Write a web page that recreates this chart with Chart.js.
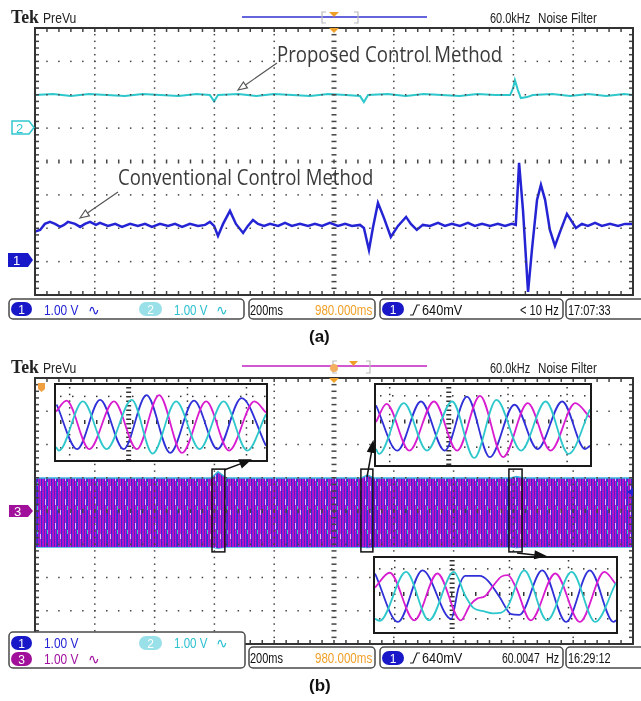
<!DOCTYPE html>
<html>
<head>
<meta charset="utf-8">
<script src="https://cdn.jsdelivr.net/npm/chart.js@4.4.1/dist/chart.umd.min.js"></script>
<style>
body{margin:0;width:641px;height:701px;position:relative;overflow:hidden;background:#fff}
canvas{position:absolute}
svg{position:absolute;left:0;top:0}
.n{position:absolute;font-family:"Liberation Sans",Arial,sans-serif;font-size:14px;line-height:14px;white-space:nowrap;transform-origin:0 50%}
.tek{position:absolute;font-family:"Liberation Serif","DejaVu Serif",serif;font-weight:bold;font-size:19px;line-height:19px;color:#222;white-space:nowrap;transform-origin:0 50%}
.note{position:absolute;font-family:"Open Sans","DejaVu Sans",sans-serif;font-size:21px;line-height:21px;color:#3a3a3a;white-space:nowrap;transform-origin:0 50%}
.cap{position:absolute;font-family:"Liberation Sans",Arial,sans-serif;font-weight:bold;font-size:17px;line-height:17px;color:#111}
.inset{position:absolute;border:2px solid #1a1a1a;background:#fff}
.inset canvas{position:static;display:block}
</style>
</head>
<body>
<canvas id="scopeA" width="602" height="271" style="left:33px;top:26px"></canvas>
<canvas id="scopeB" width="602" height="270" style="left:33px;top:376px"></canvas>
<div class="inset" style="left:54px;top:383px"><canvas id="zoom1" width="210" height="75"></canvas></div>
<div class="inset" style="left:374px;top:383px"><canvas id="zoom2" width="214" height="80"></canvas></div>
<div class="inset" style="left:373px;top:556px"><canvas id="zoom3" width="241" height="74"></canvas></div>

<svg width="641" height="701">
  <!-- cabecera (a) -->
  <line x1="242" y1="17" x2="427" y2="17" stroke="#3030d0" stroke-width="1.5"/>
  <path d="M326 12H322V23H326M354 12H358V23H354" fill="none" stroke="#bbb" stroke-width="1.2"/>
  <polygon points="329,12 339,12 334,17" fill="#f0a028"/>
  <polygon points="329,28 339,28 334,33" fill="#f0a028"/>
  <!-- cabecera (b) -->
  <line x1="242" y1="366" x2="427" y2="366" stroke="#c020c0" stroke-width="1.5"/>
  <path d="M337 361H333V373H337M366 361H370V373H366" fill="none" stroke="#bbb" stroke-width="1.2"/>
  <circle cx="334" cy="368" r="4" fill="#f3b060"/>
  <polygon points="349,361 358,361 353.5,366" fill="#f0a028"/>
  <polygon points="329,378 339,378 334,383" fill="#f0a028"/>
  <polygon points="38,383 45,383 45,389 41.5,392 38,389" fill="#f0a040"/>
  <polygon points="627,492 633,488 633,496" fill="#2020d0"/>

  <!-- marcadores de canal -->
  <polygon points="12,121 29,121 34,127.5 29,134 12,134" fill="#fff" stroke="#30c8d0" stroke-width="1.5"/>
  <text x="16" y="132.5" font-family="Liberation Sans" font-size="13" fill="#30c8d0">2</text>
  <polygon points="8,253 28,253 33,260 28,267 8,267" fill="#1818c8"/>
  <text x="13" y="265" font-family="Liberation Sans" font-size="13" fill="#fff">1</text>
  <polygon points="9,505 28,505 33,511 28,517 9,517" fill="#a0109a"/>
  <text x="14" y="516" font-family="Liberation Sans" font-size="13" fill="#fff">3</text>

  <!-- flechas (a) -->
  <g stroke="#555" stroke-width="1.2">
    <line x1="277" y1="63" x2="244" y2="86"/>
    <polygon points="238,90 247.4,87.8 243.4,82" fill="#fff"/>
    <line x1="118" y1="192" x2="86" y2="214"/>
    <polygon points="80,218 89.4,215.8 85.4,210" fill="#fff"/>
  </g>
  <!-- flechas (b) -->
  <g stroke="#111" stroke-width="1.5" fill="#111">
    <line x1="224" y1="470" x2="241" y2="463.6"/>
    <polygon points="250,460 242.1,467.3 239.3,459.9"/>
    <line x1="367" y1="477" x2="371.5" y2="452"/>
    <polygon points="373,442 374.8,452.5 367.9,451.3"/>
    <line x1="517" y1="553" x2="535" y2="555"/>
    <polygon points="545,556 534.7,558.4 535.5,551.4"/>
  </g>

  <!-- barras de estado -->
  <g fill="#fff" stroke="#4a4a4a" stroke-width="1.5">
    <rect x="9" y="299" width="235" height="20" rx="4"/>
    <rect x="249" y="299" width="126" height="20" rx="4"/>
    <rect x="380" y="299" width="183" height="20" rx="4"/>
    <rect x="566" y="299" width="80" height="20" rx="4"/>
    <rect x="9" y="632" width="236" height="36" rx="4"/>
    <rect x="249" y="647" width="126" height="21" rx="4"/>
    <rect x="380" y="647" width="183" height="21" rx="4"/>
    <rect x="566" y="647" width="80" height="21" rx="4"/>
  </g>
  <g font-family="Liberation Sans" font-size="12" text-anchor="middle" fill="#fff">
    <rect x="11" y="302" width="21" height="14" rx="7" fill="#1818c8"/><text x="21.5" y="313.5">1</text>
    <rect x="139" y="302" width="23" height="14" rx="7" fill="#9ae0e8"/><text x="150.5" y="313.5">2</text>
    <rect x="382" y="302" width="22" height="14" rx="7" fill="#1818c8"/><text x="393" y="313.5">1</text>
    <rect x="11" y="636" width="21" height="14" rx="7" fill="#1818c8"/><text x="21.5" y="647.5">1</text>
    <rect x="139" y="636" width="23" height="14" rx="7" fill="#9ae0e8"/><text x="150.5" y="647.5">2</text>
    <rect x="11" y="652" width="21" height="14" rx="7" fill="#a0109a"/><text x="21.5" y="663.5">3</text>
    <rect x="382" y="651" width="22" height="14" rx="7" fill="#1818c8"/><text x="393" y="662.5">1</text>
  </g>
  <g fill="none" stroke="#222" stroke-width="1.2">
    <polyline points="410,315 413,315 417,305 420,305"/>
    <polyline points="410,663 413,663 417,653 420,653"/>
  </g>
</svg>

<span class="tek" style="left:11px;top:7px" data-w="28">Tek</span>
<span class="tek" style="left:11px;top:357px" data-w="28">Tek</span>
<span class="note" style="left:277px;top:44px" data-w="225">Proposed Control Method</span>
<span class="note" style="left:118px;top:167px" data-w="255">Conventional Control Method</span>
<span class="cap" style="left:309px;top:328px">(a)</span>
<span class="cap" style="left:309px;top:677px">(b)</span>

<script>
// Canal 1 (a): tiempo en ms, tension en V (1 V/div)
const ch1Time = [0,17,33,50,67,84,97,110,134,151,167,184,204,217,244,268,291,318,344,368,391,418,445,468,492,518,545,569,585,599,612,629,652,672,696,712,729,746,766,786,813,836,859,886,913,936,960,986,1013,1037,1060,1087,1100,1117,1130,1147,1167,1190,1214,1241,1257,1277,1297,1321,1348,1371,1394,1421,1448,1471,1495,1522,1548,1572,1595,1608,1619,1632,1649,1662,1679,1692,1706,1722,1739,1756,1779,1792,1809,1829,1849,1873,1896,1923,1950,1973,2000];
const ch1Volts = [-2.10,-2.05,-1.87,-1.81,-1.87,-1.96,-1.90,-1.81,-1.87,-1.96,-1.87,-1.81,-1.90,-1.84,-1.93,-1.87,-1.96,-1.87,-1.93,-1.87,-1.96,-1.87,-1.93,-1.87,-1.96,-1.87,-1.93,-1.90,-1.81,-1.93,-2.23,-1.87,-1.48,-1.87,-2.14,-1.93,-1.75,-1.87,-1.93,-1.87,-1.93,-1.84,-1.93,-1.87,-1.93,-1.87,-1.93,-1.84,-1.93,-1.87,-1.93,-1.90,-1.99,-2.65,-1.99,-1.24,-1.69,-2.26,-1.93,-1.66,-1.87,-2.05,-1.90,-1.93,-1.84,-1.93,-1.87,-1.93,-1.84,-1.93,-1.87,-1.93,-1.87,-1.93,-1.87,-1.90,-0.04,-1.45,-3.91,-2.65,-1.15,-0.70,-1.15,-2.05,-2.53,-2.11,-1.57,-1.75,-1.99,-1.87,-1.93,-1.84,-1.93,-1.87,-1.93,-1.87,-1.87];

// Canal 2 (a)
const ch2Time = [0,60,120,180,240,300,360,420,480,540,585,599,612,680,740,800,860,920,980,1040,1087,1100,1114,1180,1240,1300,1360,1420,1480,1540,1589,1599,1605,1615,1625,1645,1665,1730,1790,1850,1910,1970,2000];
const ch2Volts = [1.99,2.02,1.96,2.02,1.99,1.96,2.02,1.99,1.96,2.02,1.99,1.80,1.99,2.02,1.96,2.02,1.99,1.96,2.02,1.99,1.96,1.78,1.99,2.02,1.96,2.02,1.99,1.96,2.02,1.99,1.99,2.20,2.44,2.14,1.90,1.93,1.99,2.02,1.96,2.02,1.96,2.02,1.99];

// Banda trifasica (b): envolvente superior / inferior
const bandTime = [0,590,612,640,1090,1112,1135,1590,1610,1635,2000];
const bandUpper = [0.99,0.99,1.18,0.99,0.99,1.08,0.99,0.99,1.04,0.99,0.99];
const bandLower = [-1.08,-1.08,-1.12,-1.08,-1.08,-1.10,-1.08,-1.08,-1.10,-1.08,-1.08];

// Ventanas de zoom marcadas (ms)
const zoomStart = [592,1090,1585];
const zoomEnd = [635,1130,1629];

// Ampliaciones: [posicion 0-100, valor p.u.]
const zoom1Blue = [[0.3,0.78],[10.1,-0.98],[21.0,0.96],[32.2,-0.98],[43.1,1.15],[54.4,-1.13],[65.7,0.93],[76.9,-0.98],[88.3,1.03],[100,-0.85]];
const zoom1Magenta = [[0,0.5],[5.0,0.93],[15.9,-0.98],[27.6,0.9],[38.5,-0.98],[49.1,1.15],[60.0,-1.13],[71.5,0.9],[82.4,-1.04],[94.5,0.9],[100,0.46]];
const zoom1Cyan = [[0,-0.9],[1.4,-1.04],[12.8,0.9],[24.1,-0.98],[36.1,0.96],[46.0,-1.16],[57.2,0.9],[68.4,-0.98],[79.8,0.9],[91.1,-1.04],[100,0.4]];

const zoom2Blue = [[0,0.8],[10.0,-0.88],[21.0,0.94],[32.1,-0.88],[42.5,1.12],[53.2,-1.12],[64.7,0.82],[75.5,-0.82],[87.0,0.94],[97.7,-0.82],[100,-0.7]];
const zoom2Magenta = [[0,0.18],[4.9,0.85],[15.6,-0.88],[27.1,0.94],[37.9,-0.88],[48.6,1.15],[59.4,-1.12],[70.9,0.88],[81.6,-0.88],[93.1,0.88],[100,0.35]];
const zoom2Cyan = [[0,-0.82],[1.4,-1.0],[13.0,0.88],[23.8,-0.88],[35.6,0.94],[45.9,-1.15],[56.3,1.0],[67.8,-0.88],[79.3,0.94],[90.0,-1.0],[100,0.65]];

const zoom3Blue = [[0,0.87],[9.5,-1.0],[19.7,0.99],[31.6,-0.88],[34.7,0.33],[37.4,0.78],[43.5,0.78],[46.9,0.59],[51.7,-0.04],[56.5,-0.70],[59.9,-0.73],[69.4,0.99],[79.3,-1.0],[89.1,0.99],[99.0,-1.0],[100,-0.94]];
const zoom3Magenta = [[0,0.33],[6.1,0.9],[16.3,-0.94],[25.9,0.87],[35.6,-0.94],[39.5,-0.34],[42.4,-0.10],[45.6,-0.01],[49.0,0.39],[52.4,0.75],[55.1,0.81],[58.5,0.33],[64.6,-0.94],[74.8,0.87],[85.0,-1.0],[95.2,0.93],[100,0.45]];
const zoom3Cyan = [[0,-0.88],[2.0,-0.96],[12.9,0.93],[22.4,-0.94],[32.7,0.93],[37.4,0.02],[40.8,-0.46],[44.9,-0.58],[49.0,-0.67],[52.4,-0.64],[55.1,-0.40],[61.9,0.99],[71.4,-0.94],[81.6,0.93],[91.4,-1.0],[100,0.51]];

const BLUE = '#2424d4', CYAN = '#2ec8cc', MAGENTA = '#d81cd0';

// Rejilla estilo Tektronix: 10 x 8 divisiones, punteada
const tekGrid = {
    id: 'tekGrid',
    afterDatasetsDraw(chart, args, opts) {
        const {ctx, chartArea: a, scales: {x, y}} = chart;
        ctx.save();
        ctx.fillStyle = '#444';
        for (let i = 1; i < 10; i++) {
            const px = x.getPixelForValue(i * 200);
            for (let k = 1; k < 40; k++) {
                const py = y.getPixelForValue(-4 + k * 0.2);
                if (i === 5) ctx.fillRect(px - 2.5, py - 0.75, 5, 1.5);
                else ctx.fillRect(px - 0.75, py - 0.75, 1.5, 1.5);
            }
        }
        for (let j = 1; j < 8; j++) {
            const py = y.getPixelForValue(-4 + j);
            for (let k = 1; k < 50; k++) {
                const px = x.getPixelForValue(k * 40);
                if (j === 4) ctx.fillRect(px - 0.75, py - 2, 1.5, 4);
                else ctx.fillRect(px - 0.75, py - 0.75, 1.5, 1.5);
            }
        }
        // marcas del borde
        for (let k = 1; k < 50; k++) {
            const px = x.getPixelForValue(k * 40);
            ctx.fillRect(px - 0.75, a.top, 1.5, 4);
            ctx.fillRect(px - 0.75, a.bottom - 4, 1.5, 4);
        }
        for (let k = 1; k < 40; k++) {
            const py = y.getPixelForValue(-4 + k * 0.2);
            ctx.fillRect(a.left, py - 0.75, 4, 1.5);
            ctx.fillRect(a.right - 4, py - 0.75, 4, 1.5);
        }
        ctx.strokeStyle = '#333';
        ctx.lineWidth = 2;
        ctx.strokeRect(a.left, a.top, a.width, a.height);
        // ventanas de zoom
        if (opts.boxes) {
            ctx.strokeStyle = '#111';
            ctx.lineWidth = 1.5;
            opts.boxes.start.forEach((s, i) => {
                const x0 = x.getPixelForValue(s), x1 = x.getPixelForValue(opts.boxes.end[i]);
                const y0 = y.getPixelForValue(1.26), y1 = y.getPixelForValue(-1.23);
                ctx.strokeRect(x0, y0, x1 - x0, y1 - y0);
            });
        }
        ctx.restore();
    }
};

const insetGrid = {
    id: 'insetGrid',
    beforeDatasetsDraw(chart, args, o) {
        const {ctx, chartArea: a, scales: {x, y}} = chart;
        ctx.save();
        ctx.fillStyle = '#333';
        o.cols.forEach((c, i) => {
            const px = x.getPixelForValue(c);
            const center = i === 1;
            for (let py = a.top + 2; py < a.bottom; py += center ? 4.5 : 6.7) {
                if (center) ctx.fillRect(px - 2.5, py, 5, 1.5);
                else ctx.fillRect(px - 0.75, py, 1.5, 1.5);
            }
        });
        o.rows.forEach((r, j) => {
            const py = y.getPixelForValue(r);
            for (let px = a.left + 4; px < a.right; px += 12) {
                if (j === 1) ctx.fillRect(px, py - 2, 1.5, 4);
                else ctx.fillRect(px, py - 0.75, 1.5, 1.5);
            }
        });
        ctx.restore();
    }
};

const toXY = (t, v) => t.map((ti, i) => ({x: ti, y: v[i]}));
const toPts = arr => arr.map(p => ({x: p[0], y: p[1]}));

const scopeOptions = (boxes) => ({
    responsive: false,
    animation: false,
    events: [],
    layout: {padding: 2},
    scales: {
        x: {type: 'linear', min: 0, max: 2000, display: false},
        y: {min: -4, max: 4, display: false}
    },
    plugins: {legend: {display: false}, tooltip: {enabled: false}, tekGrid: {boxes}}
});

// Patron de la banda trifasica (franjas de las tres fases)
const bandPattern = (ctx) => {
    const c = document.createElement('canvas');
    c.width = 10; c.height = 24;
    const g = c.getContext('2d');
    const cols = ['#b810c8','#4a20d4','#c818c4','#6420d0','#2838d8','#c014c4','#8a1ccc','#c820c4','#3a24d6','#a818c8'];
    cols.forEach((col, i) => { g.fillStyle = col; g.fillRect(i, 0, 1, 24); });
    g.fillStyle = '#f0b4f0'; g.fillRect(2, 3, 1, 6); g.fillRect(7, 14, 1, 5);
    g.fillStyle = '#34c4d4'; g.fillRect(4, 10, 1, 4);
    return ctx.createPattern(c, 'repeat');
};

new Chart(document.getElementById('scopeA'), {
    type: 'line',
    data: {datasets: [
        {data: toXY(ch2Time, ch2Volts), borderColor: CYAN, borderWidth: 2, pointRadius: 0, tension: 0},
        {data: toXY(ch1Time, ch1Volts), borderColor: BLUE, borderWidth: 2.5, pointRadius: 0, tension: 0}
    ]},
    options: scopeOptions(null),
    plugins: [tekGrid]
});

const cb = document.getElementById('scopeB');
new Chart(cb, {
    type: 'line',
    data: {datasets: [
        {data: toXY(bandTime, bandUpper), borderColor: '#38b4dc', borderWidth: 1.5, pointRadius: 0, tension: 0,
         fill: '+1', backgroundColor: bandPattern(cb.getContext('2d'))},
        {data: toXY(bandTime, bandLower), borderColor: '#38b4dc', borderWidth: 1.5, pointRadius: 0, tension: 0, fill: false}
    ]},
    options: scopeOptions({start: zoomStart, end: zoomEnd}),
    plugins: [tekGrid]
});

const makeZoom = (id, blue, magenta, cyan, ymin, ymax, cols, rows) => {
    const ds = (d, c) => ({data: toPts(d), borderColor: c, borderWidth: 1.8, pointRadius: 0, cubicInterpolationMode: 'monotone'});
    new Chart(document.getElementById(id), {
        type: 'line',
        data: {datasets: [ds(cyan, CYAN), ds(magenta, MAGENTA), ds(blue, '#3030d8')]},
        options: {
            responsive: false, animation: false, events: [],
            layout: {padding: 0},
            scales: {x: {type: 'linear', min: 0, max: 100, display: false}, y: {min: ymin, max: ymax, display: false}},
            plugins: {legend: {display: false}, tooltip: {enabled: false}, insetGrid: {cols, rows}}
        },
        plugins: [insetGrid]
    });
};
makeZoom('zoom1', zoom1Blue, zoom1Magenta, zoom1Cyan, -1.41, 1.55, [6.5, 34.6, 62.6, 90.7], [1.1, 0.09, -0.93]);
makeZoom('zoom2', zoom2Blue, zoom2Magenta, zoom2Cyan, -1.41, 1.55, [6.4, 34.0, 61.7, 89.3], [1.15, 0.2, -0.75]);
makeZoom('zoom3', zoom3Blue, zoom3Magenta, zoom3Cyan, -1.39, 1.47, [8.2, 32.0, 55.8, 80.3], [1.05, 0.08, -0.88]);

// Textos de la pantalla del osciloscopio
const put = (txt, x, base, w, color) => {
    const s = document.createElement('span');
    s.className = 'n';
    s.textContent = txt;
    s.style.left = x + 'px';
    s.style.top = (base - 11.85) + 'px';
    s.style.color = color;
    s.dataset.w = w;
    document.body.appendChild(s);
};
const ORANGE = '#f0a028', CYTXT = '#2cc0d0', PURPLE = '#a010a0';
// (a)
put('PreVu', 43, 23, 33, '#222');
put('60.0kHz', 490, 23, 40, '#222');
put('Noise Filter', 538, 23, 59, '#222');
put('1.00 V', 44, 315, 34, BLUE);
put('\u223F', 88, 315, 12, BLUE);
put('1.00 V', 174, 315, 33, CYTXT);
put('\u223F', 216, 315, 12, CYTXT);
put('200ms', 250, 315, 33, '#111');
put('980.000ms', 315, 315, 57, ORANGE);
put('640mV', 422, 315, 40, '#111');
put('< 10 Hz', 520, 315, 39, '#111');
put('17:07:33', 568, 315, 43, '#111');
// (b)
put('PreVu', 43, 373, 33, '#222');
put('60.0kHz', 490, 373, 40, '#222');
put('Noise Filter', 538, 373, 59, '#222');
put('1.00 V', 44, 648, 34, BLUE);
put('1.00 V', 174, 648, 33, CYTXT);
put('\u223F', 216, 648, 12, CYTXT);
put('1.00 V', 44, 664, 34, PURPLE);
put('\u223F', 88, 664, 12, PURPLE);
put('200ms', 250, 663, 33, '#111');
put('980.000ms', 315, 663, 57, ORANGE);
put('640mV', 422, 663, 40, '#111');
put('60.0047', 502, 663, 38, '#111');
put('Hz', 546, 663, 13, '#111');
put('16:29:12', 568, 663, 43, '#111');

const fit = () => {
    document.querySelectorAll('[data-w]').forEach(el => {
        el.style.transform = 'none';
        const w = +el.dataset.w;
        el.style.transform = `scaleX(${w / el.offsetWidth})`;
    });
};
fit();
document.fonts.ready.then(fit);
</script>
</body>
</html>
